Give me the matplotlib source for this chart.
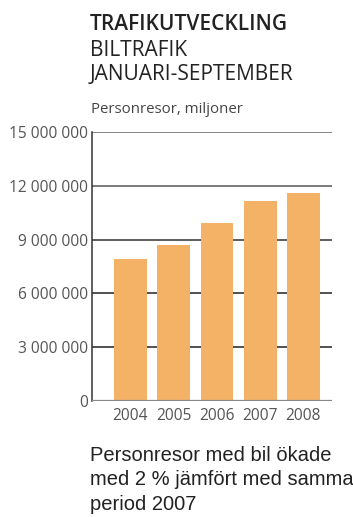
import matplotlib.pyplot as plt

years = ["2004", "2005", "2006", "2007", "2008"]
trips = [7920000, 8700000, 9930000, 11150000, 11600000]
y_ticks = [0, 3000000, 6000000, 9000000, 12000000, 15000000]
y_labels = ["0", "3 000 000", "6 000 000", "9 000 000", "12 000 000", "15 000 000"]
grid_colors = ["#222222", "#222222", "#333333", "#555555", "#666666"]

fig = plt.figure(figsize=(3.53, 5.17), dpi=100)
ax = fig.add_axes([0.2606, 0.2244, 0.68, 0.5203])

x = list(range(len(years)))
ax.bar(x, trips, width=0.76, color="#F4B266", zorder=3)

for v, c in zip(y_ticks[1:], grid_colors):
    ax.axhline(v, color=c, lw=1.1, zorder=1)
ax.axhline(0, color="#888888", lw=1.6, zorder=4)

ax.set_xlim(-0.89, 4.66)
ax.set_ylim(0, 15000000)
ax.set_yticks(y_ticks)
ax.set_yticklabels(y_labels)
ax.set_xticks(x)
ax.set_xticklabels(years)
ax.tick_params(axis="y", length=0, pad=3, labelsize=11.2, labelcolor="#555555")
ax.tick_params(axis="x", length=0, pad=5, labelsize=11.2, labelcolor="#555555")
for lab in ax.get_xticklabels() + ax.get_yticklabels():
    lab.set_family("Open Sans")

for s in ["top", "right", "bottom"]:
    ax.spines[s].set_visible(False)
ax.spines["left"].set_color("#333333")
ax.spines["left"].set_linewidth(1.1)

fig.text(90 / 353, 1 - 30 / 517, "TRAFIKUTVECKLING", family="Open Sans",
         weight="semibold", fontsize=15, color="#222222")
fig.text(90 / 353, 1 - 56 / 517, "BILTRAFIK", family="Open Sans",
         fontsize=15, color="#222222")
fig.text(90 / 353, 1 - 80 / 517, "JANUARI-SEPTEMBER", family="Open Sans",
         fontsize=15, color="#222222")
fig.text(91 / 353, 1 - 113 / 517, "Personresor, miljoner", family="Open Sans",
         fontsize=10.8, color="#444444")

note_lines = ["Personresor med bil ökade", "med 2 % jämfört med samma", "period 2007"]
for line, base in zip(note_lines, [461, 485, 510]):
    fig.text(90 / 353, 1 - base / 517, line, family="Liberation Sans",
             fontsize=14.5, color="#222222", va="baseline")

fig.savefig("out.png", dpi=100)
